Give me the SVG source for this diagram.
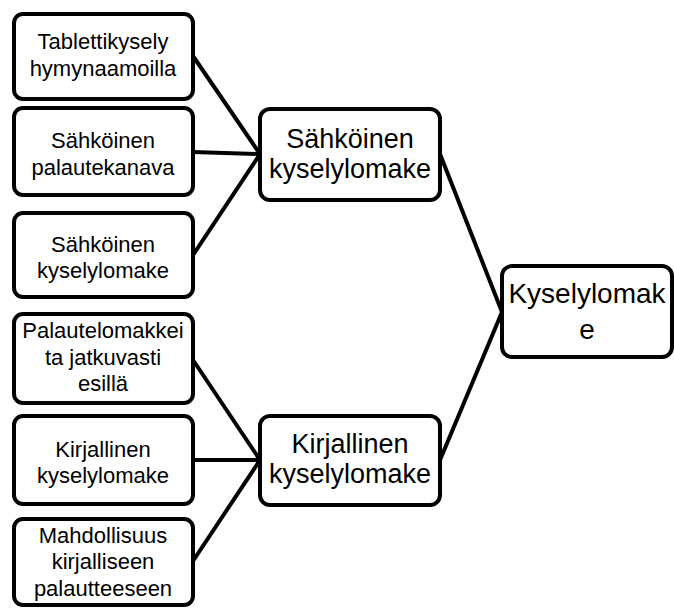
<svg xmlns="http://www.w3.org/2000/svg" width="674" height="610" viewBox="0 0 674 610">
<style>
.box{fill:#fff;stroke:#000;stroke-width:4}
.t{font-family:"Liberation Sans",Arial,sans-serif;font-size:22px;fill:#000;text-anchor:middle}
.m{font-family:"Liberation Sans",Arial,sans-serif;font-size:27px;fill:#000;text-anchor:middle}
.r{font-family:"Liberation Sans",Arial,sans-serif;font-size:28px;fill:#000;text-anchor:middle}
.c{stroke:#000;stroke-width:4;fill:none}
</style>
<rect width="674" height="610" fill="#fff"/>
<g id="connectors">
<line class="c" x1="193" y1="56" x2="260" y2="154"/>
<line class="c" x1="193" y1="152" x2="260" y2="154"/>
<line class="c" x1="193" y1="255" x2="260" y2="154"/>
<line class="c" x1="193" y1="360" x2="260" y2="460"/>
<line class="c" x1="193" y1="460" x2="260" y2="460"/>
<line class="c" x1="193" y1="561" x2="260" y2="460"/>
<line class="c" x1="440" y1="154" x2="502" y2="312"/>
<line class="c" x1="440" y1="460" x2="502" y2="312"/>
</g>
<g id="n1"><rect class="box" x="14" y="14" width="179" height="85" rx="9"/><text class="t" x="103" y="49">Tablettikysely</text><text class="t" x="103" y="76">hymynaamoilla</text></g>
<g id="n2"><rect class="box" x="14" y="108" width="179" height="87" rx="9"/><text class="t" x="103" y="148">Sähköinen</text><text class="t" x="103" y="175">palautekanava</text></g>
<g id="n3"><rect class="box" x="14" y="213" width="179" height="84" rx="9"/><text class="t" x="103" y="252">Sähköinen</text><text class="t" x="103" y="278">kyselylomake</text></g>
<g id="n4"><rect class="box" x="14" y="314" width="179" height="89" rx="9"/><text class="t" x="103" y="338">Palautelomakkei</text><text class="t" x="103" y="365">ta jatkuvasti</text><text class="t" x="103" y="391">esillä</text></g>
<g id="n5"><rect class="box" x="14" y="416" width="179" height="88" rx="9"/><text class="t" x="103" y="457">Kirjallinen</text><text class="t" x="103" y="483">kyselylomake</text></g>
<g id="n6"><rect class="box" x="14" y="519" width="179" height="86" rx="9"/><text class="t" x="103" y="543">Mahdollisuus</text><text class="t" x="103" y="569">kirjalliseen</text><text class="t" x="103" y="596">palautteeseen</text></g>
<g id="s"><rect class="box" x="260" y="109" width="180" height="91" rx="10"/><text class="m" x="350" y="148">Sähköinen</text><text class="m" x="350" y="178">kyselylomake</text></g>
<g id="k"><rect class="box" x="260" y="416" width="180" height="89" rx="10"/><text class="m" x="350" y="453">Kirjallinen</text><text class="m" x="350" y="483">kyselylomake</text></g>
<g id="r"><rect class="box" x="502" y="266" width="170" height="91" rx="10"/><text class="r" x="587" y="303">Kyselylomak</text><text class="r" x="587" y="339">e</text></g>
</svg>
